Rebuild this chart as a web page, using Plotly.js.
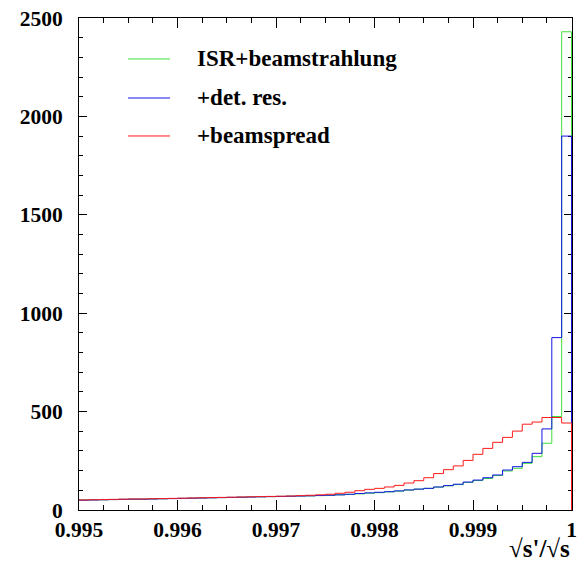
<!DOCTYPE html>
<html>
<head>
<meta charset="utf-8">
<script src="https://cdn.plot.ly/plotly-3.0.1.min.js"></script>
<style>html,body{margin:0;padding:0;background:#fff;} #chart{width:586px;height:565px;}</style>
</head>
<body>
<div id="chart"></div>
<script>
// Histogram: 50 bins of width 0.0001 from 0.995 to 1.0
const binLow = 0.995;
const binWidth = 0.0001;

const seriesNames = ["ISR+beamstrahlung", "+det. res.", "+beamspread"];

const isrBeamstrahlung = [
  50, 51, 52, 53, 54, 55, 55, 56, 57, 58,
  59, 60, 61, 62, 63, 64, 65, 66, 67, 68,
  69, 70, 71, 72, 73, 75, 77, 79, 82, 85,
  88, 92, 96, 101, 106, 110, 116, 123, 129, 140,
  150, 160, 175, 198, 212, 237, 271, 339, 475, 2430
];

const detRes = [
  50, 51, 52, 53, 54, 55, 55, 56, 57, 58,
  59, 60, 61, 62, 63, 64, 65, 66, 67, 68,
  69, 70, 71, 72, 74, 75, 77, 80, 84, 87,
  90, 93, 97, 102, 106, 110, 117, 124, 131, 142,
  152, 164, 178, 203, 220, 242, 288, 412, 876, 1900
];

const beamspread = [
  51, 52, 53, 54, 55, 56, 56, 57, 58, 59,
  60, 61, 62, 63, 64, 65, 66, 67, 68, 69,
  70, 71, 73, 75, 77, 80, 85, 90, 98, 105,
  110, 117, 125, 137, 149, 164, 185, 205, 224, 252,
  283, 313, 344, 369, 401, 436, 447, 470, 470, 442
];

const xTickVals = [0.995, 0.996, 0.997, 0.998, 0.999, 1.0];
const xTickText = ["0.995", "0.996", "0.997", "0.998", "0.999", "1"];
const yTickVals = [0, 500, 1000, 1500, 2000, 2500];
const yTickText = ["0", "500", "1000", "1500", "2000", "2500"];

const colors = ["#3ee03e", "#1414e6", "#ff1a1a"];

function stepTrace(vals, name, color) {
  const x = [], y = [];
  for (let i = 0; i < vals.length; i++) {
    x.push(binLow + i * binWidth);
    y.push(vals[i]);
  }
  const end = binLow + vals.length * binWidth;
  x.push(end); y.push(vals[vals.length - 1]);
  x.push(end); y.push(0);
  return {
    x: x, y: y, type: "scatter", mode: "lines", name: name,
    line: {shape: "hv", color: color, width: 1},
    showlegend: false, hoverinfo: "skip"
  };
}

const allSeries = [isrBeamstrahlung, detRes, beamspread];
const data = allSeries.map((s, i) => stepTrace(s, seriesNames[i], colors[i]));

const family = "Liberation Serif, Times New Roman, serif";
const tickFont = {family: family, size: 21.5, color: "#000", weight: "bold"};
const textFont = {family: family, size: 23, color: "#000", weight: "bold"};
const titleFont = {family: family, size: 25, color: "#000", weight: "bold"};

// manual legend
const legY = [0.9167, 0.8374, 0.7602];
const shapes = [];
const annotations = [];
seriesNames.forEach((n, i) => {
  shapes.push({type: "line", xref: "paper", yref: "paper", x0: 0.0994, x1: 0.1846, y0: legY[i], y1: legY[i],
    line: {color: colors[i], width: 1}});
  annotations.push({xref: "paper", yref: "paper", x: 0.236, y: legY[i], xanchor: "left", yanchor: "middle",
    text: n, showarrow: false, font: textFont});
});
annotations.push({xref: "paper", yref: "paper", x: 1.0, y: -0.078, xanchor: "right", yanchor: "middle",
  text: "\u221As'/\u221As", showarrow: false, font: titleFont});

const layout = {
  width: 586, height: 565,
  margin: {l: 79, r: 14, t: 18, b: 55},
  paper_bgcolor: "#fff", plot_bgcolor: "#fff",
  font: tickFont,
  showlegend: false,
  xaxis: {
    range: [0.995, 1.000005],
    tickmode: "array", tickvals: xTickVals, ticktext: xTickText,
    ticks: "inside", ticklen: 10, tickwidth: 1, tickcolor: "#000",
    minor: {tickmode: "linear", tick0: 0.995, dtick: 0.00025, ticks: "inside", ticklen: 5, tickwidth: 1, tickcolor: "#000"},
    showline: true, linecolor: "#000", linewidth: 1, mirror: "allticks",
    showgrid: false, zeroline: false, layer: "below traces",
    tickfont: tickFont, ticklabelstandoff: 0
  },
  yaxis: {
    range: [0, 2500],
    tickmode: "array", tickvals: yTickVals, ticktext: yTickText,
    ticks: "inside", ticklen: 8, tickwidth: 1, tickcolor: "#000",
    minor: {tickmode: "linear", tick0: 0, dtick: 100, ticks: "inside", ticklen: 4, tickwidth: 1, tickcolor: "#000"},
    showline: true, linecolor: "#000", linewidth: 1, mirror: "allticks",
    showgrid: false, zeroline: false, layer: "below traces",
    tickfont: tickFont, ticklabelstandoff: 11
  },
  shapes: shapes,
  annotations: annotations
};

Plotly.newPlot("chart", data, layout, {displayModeBar: false, staticPlot: true});
</script>
</body>
</html>
